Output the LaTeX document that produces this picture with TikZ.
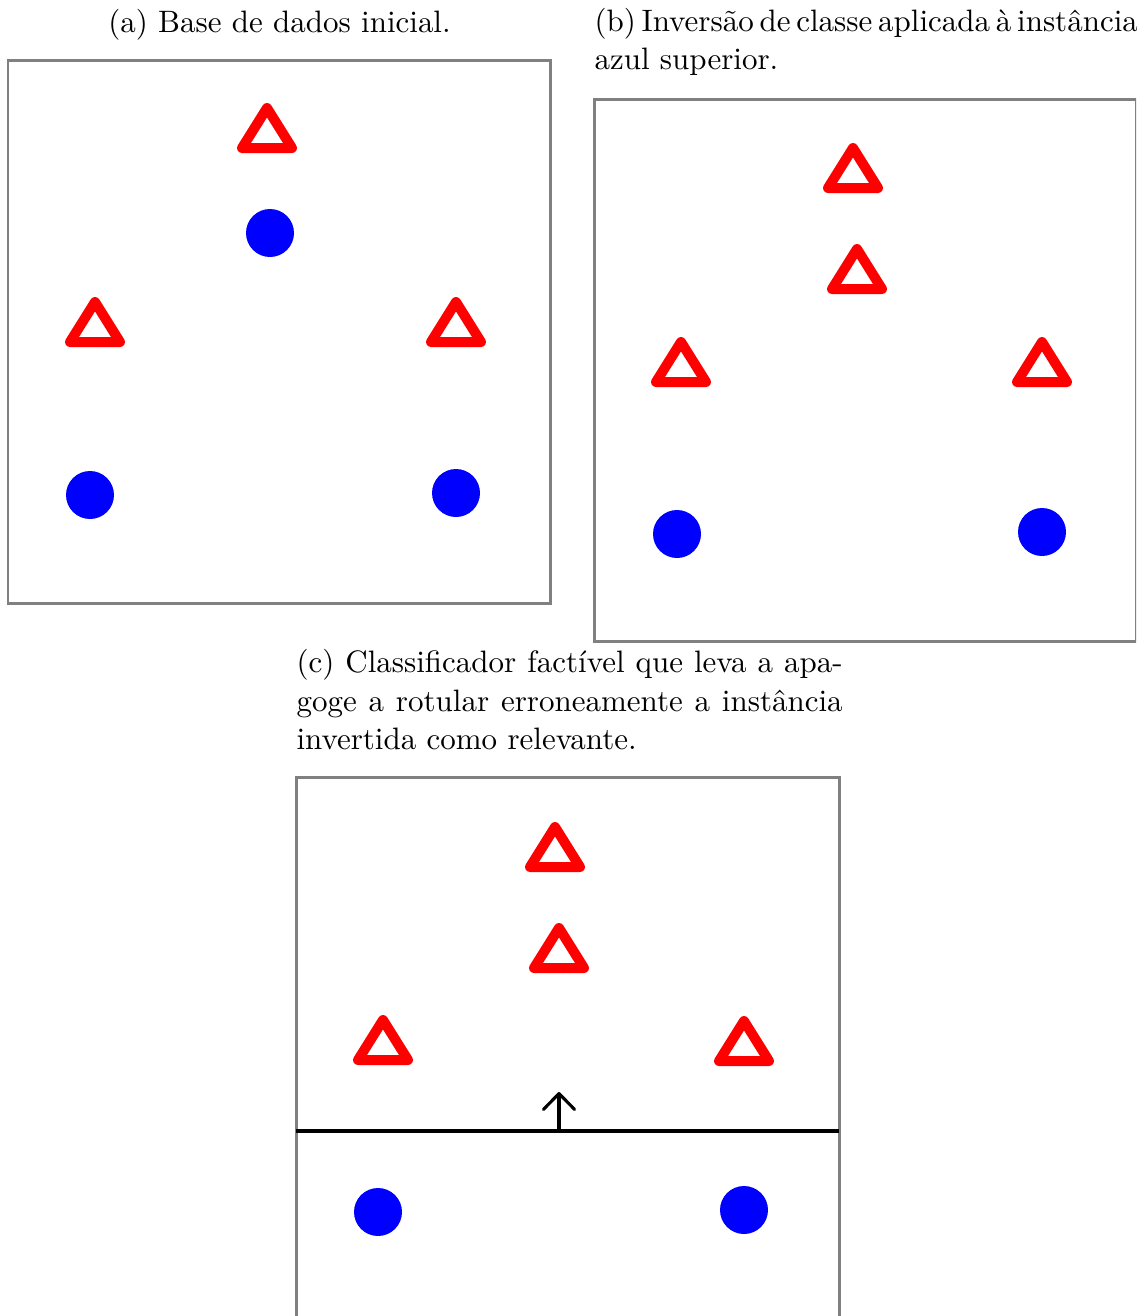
\documentclass[tikz,border=0pt]{standalone}
\usetikzlibrary{arrows.meta}
\begin{document}
\begin{tikzpicture}[x=0.3534pt,y=-0.3534pt,
  panel/.style={draw=black!50,line width=1.06pt},
  redtri/.style={draw=red,line width=3.53pt,line join=round},
  bluedot/.style={fill=blue},
  caption/.style={inner sep=0pt,font=\fontsize{10.95}{13.6}\selectfont},
  longcap/.style={caption,text width=193pt,align=justify,anchor=north west},
  shortcap/.style={caption,align=left,anchor=north west},
  tri/.pic={\draw[redtri] (0,-20) -- (25,20) -- (-25,20) -- cycle;},
  boundary/.style={draw=black,line width=1.1pt},
  pointer/.style={draw=black,line width=1.1pt,line cap=round,line join=round,
    -{Straight Barb[length=5.6pt,width=11pt,line cap=round,line join=round]}}]
\useasboundingbox (0,0) rectangle (1136,1316);
\clip (0,0) rectangle (1136,1316);

% ---------- panel (a) ----------
\node[caption,anchor=base] (capa) at (279.5,32) {(a) Base de dados inicial.};
\draw[panel] (8,60.5) rectangle (550.5,603.3);
\pic at (267,128) {tri};
\pic at (95,322) {tri};
\pic at (456,322) {tri};
\fill[bluedot] (270,233) circle[radius=24];
\fill[bluedot] (90,495) circle[radius=24];
\fill[bluedot] (456,493) circle[radius=24];

% ---------- panel (b) ----------
\node[shortcap] (capb) at (594,4) {\strut\hbox to 192pt{\spaceskip=3.65pt minus 2pt\relax (b) Inversão de classe aplicada à instância}\\azul superior.};
\draw[panel] (594,99.5) rectangle (1136.5,641);
\pic at (853,168) {tri};
\pic at (857,269) {tri};
\pic at (681,362) {tri};
\pic at (1042,362) {tri};
\fill[bluedot] (677,534) circle[radius=24];
\fill[bluedot] (1042,532) circle[radius=24];

% ---------- panel (c) ----------
\node[longcap] (capc) at (296,645) {\strut(c) Classificador factível que leva a apa-\linebreak goge a rotular erroneamente a instância\linebreak invertida como relevante.};
\draw[panel] (296,777.5) rectangle (839,1330);
\pic at (555,847) {tri};
\pic at (559,948) {tri};
\pic at (383,1040) {tri};
\pic at (744,1041) {tri};
\fill[bluedot] (378,1212) circle[radius=24];
\fill[bluedot] (744,1210) circle[radius=24];
\coordinate (cl) at (296,1131);
\coordinate (cr) at (839,1131);
\coordinate (cm) at (559,1131);
\coordinate (ctip) at (559,1092);
\draw[boundary] (cl) -- (cr);
\draw[pointer] (cm) -- (ctip);
\end{tikzpicture}
\end{document}
